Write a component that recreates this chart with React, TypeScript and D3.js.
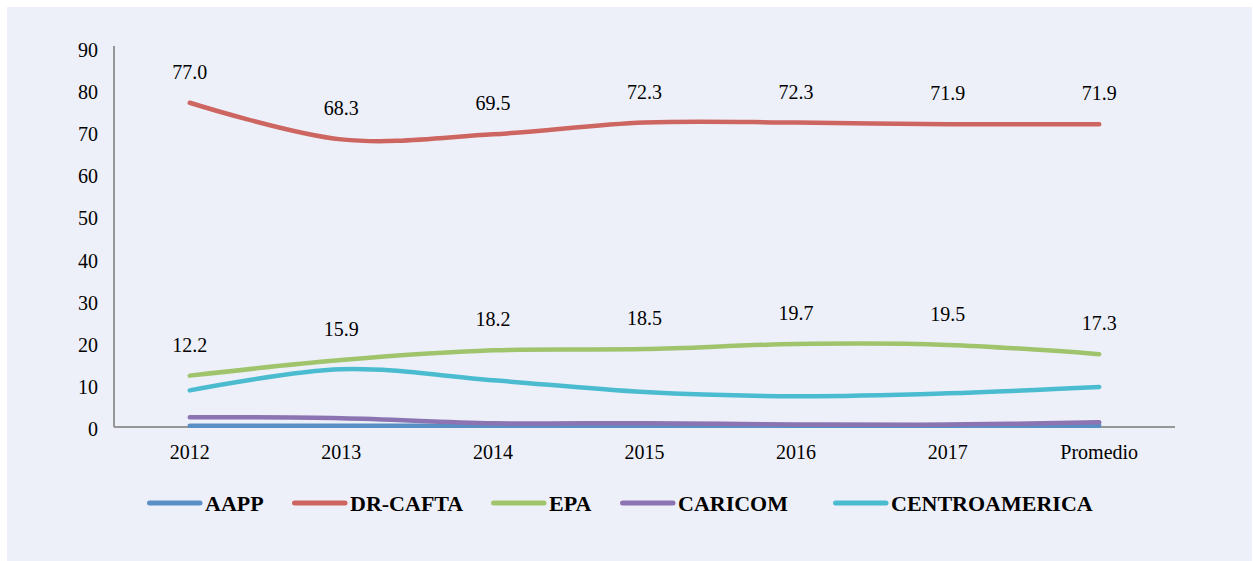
import React from "react";
import * as d3 from "d3";

const categories = ["2012", "2013", "2014", "2015", "2016", "2017", "Promedio"];
const yTicks = [0, 10, 20, 30, 40, 50, 60, 70, 80, 90];

const aapp = [0.3, 0.3, 0.3, 0.3, 0.3, 0.3, 0.3];
const drCafta = [77.0, 68.3, 69.5, 72.3, 72.3, 71.9, 71.9];
const epa = [12.2, 15.9, 18.2, 18.5, 19.7, 19.5, 17.3];
const caricom = [2.3, 2.1, 0.9, 0.9, 0.6, 0.6, 1.1];
const centroamerica = [8.7, 13.7, 11.1, 8.3, 7.3, 8.0, 9.5];

const series = [
  { name: "AAPP", values: aapp, color: "#5a8fc6", labels: false },
  { name: "DR-CAFTA", values: drCafta, color: "#cd6561", labels: true },
  { name: "EPA", values: epa, color: "#a0c46c", labels: true },
  { name: "CARICOM", values: caricom, color: "#8b74b1", labels: false },
  { name: "CENTROAMERICA", values: centroamerica, color: "#4bbbd0", labels: false },
];

// draw order: back to front
const drawOrder = ["DR-CAFTA", "EPA", "CENTROAMERICA", "AAPP", "CARICOM"];

const legendPos = [147, 292, 491, 620, 833];

export default function App() {
  const W = 1253;
  const H = 561;
  const left = 114;
  const right = 1175;
  const top = 48;
  const bottom = 427;

  const x = d3.scalePoint<string>().domain(categories).range([left, right]).padding(0.5);
  const y = d3.scaleLinear().domain([0, 90]).range([bottom, top]);

  const line = d3
    .line<number>()
    .x((_, i) => x(categories[i]) as number)
    .y((d) => y(d))
    .curve(d3.curveCatmullRom.alpha(0.5));

  const font = "'Liberation Serif', 'Times New Roman', serif";

  return (
    <svg
      width={W}
      height={H}
      style={{ position: "absolute", left: 0, top: 0, display: "block" }}
      fontFamily={font}
    >
      <rect x={0} y={0} width={W} height={H} fill="#ffffff" />
      <rect x={7} y={7} width={W - 8} height={H - 7} fill="#eef0f9" />

      {/* axes */}
      <line x1={left} x2={left} y1={46} y2={bottom} stroke="#979797" strokeWidth={2} />
      <line x1={left} x2={right} y1={bottom} y2={bottom} stroke="#979797" strokeWidth={2} />

      {yTicks.map((t) => (
        <text key={t} x={98} y={y(t) + 2} dy="0.35em" textAnchor="end" fontSize={20} fill="#000">
          {t}
        </text>
      ))}

      {categories.map((c) => (
        <text key={c} x={x(c) as number} y={459} textAnchor="middle" fontSize={20} fill="#000">
          {c}
        </text>
      ))}

      {drawOrder.map((n) => {
        const s = series.find((ss) => ss.name === n)!;
        return (
          <path
            key={n}
            d={line(s.values) || ""}
            fill="none"
            stroke={s.color}
            strokeWidth={4.5}
            strokeLinecap="round"
            strokeLinejoin="round"
          />
        );
      })}

      {series
        .filter((s) => s.labels)
        .map((s) =>
          s.values.map((v, i) => (
            <text
              key={s.name + i}
              x={x(categories[i]) as number}
              y={y(v) - 24}
              textAnchor="middle"
              fontSize={20}
              fill="#000"
            >
              {v.toFixed(1)}
            </text>
          ))
        )}

      {series.map((s, i) => (
        <g key={s.name} transform={`translate(${legendPos[i]},503)`}>
          <line x1={2.5} x2={53} y1={0} y2={0} stroke={s.color} strokeWidth={5} strokeLinecap="round" />
          <text x={58} y={0} dy="0.35em" fontSize={22} fontWeight="bold" fill="#000">
            {s.name}
          </text>
        </g>
      ))}
    </svg>
  );
}
